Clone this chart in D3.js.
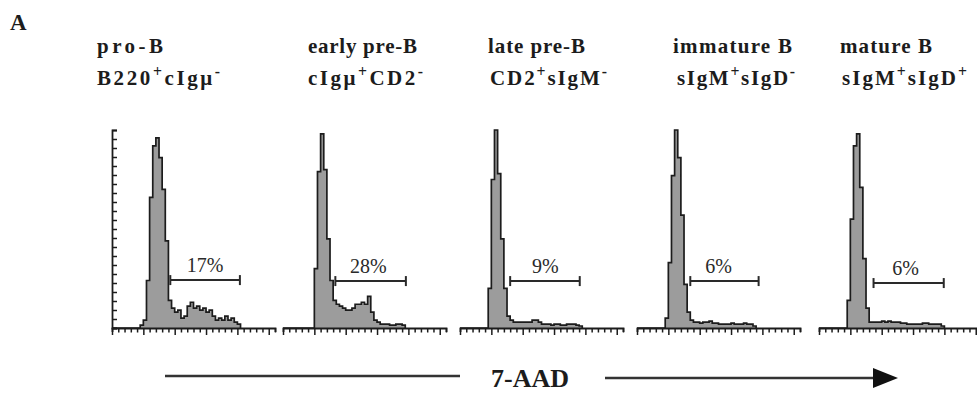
<!DOCTYPE html>
<html><head><meta charset="utf-8">
<script src="https://cdn.jsdelivr.net/npm/d3@7"></script>
<style>body{margin:0;background:#fff}svg{display:block}</style>
</head><body><svg id="c" width="977" height="394"></svg>
<script>
// ---------- data ----------
const stageNames = ["pro-B", "early pre-B", "late pre-B", "immature B", "mature B"];
const stageMarkers = [
  [["B220"], ["+", 1], ["cIgμ"], ["-", 1]],
  [["cIgμ"], ["+", 1], ["CD2"], ["-", 1]],
  [["CD2"], ["+", 1], ["sIgM"], ["-", 1]],
  [["sIgM"], ["+", 1], ["sIgD"], ["-", 1]],
  [["sIgM"], ["+", 1], ["sIgD"], ["+", 1]]
];
// 7-AAD histogram counts (relative), bins of 0.5 channel units starting at 0
const proB = [0,0,0,0,0,0,0,0,0,1.5,4,24,66,92,96,86,70,44,14,10,8,9,5,6,11,13,10,11,9,10,8,9,6,4,5,4,6,4,5,3,2,0];
const earlyPreB = [0,0,0,0,0,0,0,0,0,0,30,79,98,80,45,24,14,12,11,10,9,9,10,12,12,13,12,16,8,4,3,2,2,2,1.5,1.5,2,2,1.5,0];
const latePreB = [0,0,0,0,0,0,0,0,0,20,75,100,78,45,20,6,4,3,3,3,3,3,3,4,4,3,2,2,2,1.5,2,2,1.5,1.5,2,2,2,1.5,1,0];
const immatureB = [0,0,0,0,0,0,0,0,0,5,33,77,100,86,57,22,8,4,3,3,2.5,3,3,3.5,2.5,2.5,2,2,2,2,2.5,2,2,2,2.5,2,2,1,0];
const matureB = [0,0,0,0,0,0,0,0,0,14,55,92,98,71,35,10,3,3,3,3,3.5,3,3.5,3,3,3,2.5,2.5,2,2,2,2,2,2.5,2.5,2,2,2,2,1,0];
const histograms = [proB, earlyPreB, latePreB, immatureB, matureB];
const gateStart = [9.3, 8.35, 8.0, 8.5, 8.7];
const gateEnd = [20.4, 19.6, 19.1, 19.4, 19.9];
const gateLevel = [24.2, 23.7, 23.7, 23.7, 22.7];
const gatePercent = ["17%", "28%", "9%", "6%", "6%"];
const gateLabelAt = [14.85, 13.6, 13.6, 13.0, 13.8];
const binWidth = 0.5;
const xMax = 26;
const yMax = 100;
const xTickValues = d3.range(0, xMax + 1, 1);
const yTickValues = d3.range(0, 23).map(i => i * yMax / 22);
const axisTitle = "7-AAD";
const panelLabel = "A";

// ---------- layout ----------
const svg = d3.select("#c");
const ink = "#1c1c1c";
const panelX = [112, 283, 460, 637, 819];
const axisLen = 163;
const baseY = 328, topY = 130;
const headerX1 = [97, 308, 488, 673, 840];
const headerW1 = [66, 109, 97, 119, 92];
const headerX2 = [97, 308, 490, 677, 842];
const headerW2 = [123, 115, 117, 118, 125];
const serif = "'Liberation Serif','Times New Roman',serif";

const y = d3.scaleLinear().domain([0, yMax]).range([baseY, topY]);

function spacedText(x, yy, width, parts, size) {
  const t = svg.append("text").attr("x", x).attr("y", yy)
    .attr("font-family", serif).attr("font-weight", "bold")
    .attr("font-size", size).attr("fill", ink);
  let n = 0;
  parts.forEach(p => {
    const ts = t.append("tspan").text(p[0]);
    n += p[0].length;
    if (p[1]) ts.attr("font-size", size * 0.75).attr("baseline-shift", "50%");
  });
  const natural = t.node().getComputedTextLength();
  const ls = Math.max(0, (width - natural) / Math.max(1, n - 1));
  t.style("letter-spacing", ls + "px");
  return t;
}

svg.append("text").attr("x", 10).attr("y", 30).text(panelLabel)
  .attr("font-family", serif).attr("font-weight", "bold").attr("font-size", 23).attr("fill", ink);

stageNames.forEach((name, i) => {
  spacedText(headerX1[i], 53, headerW1[i], [[name]], 21);
  spacedText(headerX2[i], 85, headerW2[i], stageMarkers[i], 21);
});

histograms.forEach((h, i) => {
  const x = d3.scaleLinear().domain([0, xMax]).range([panelX[i], panelX[i] + axisLen]);
  const g = svg.append("g");
  const pts = h.map((v, k) => ({ x: k * binWidth, v }));
  const area = d3.area().curve(d3.curveStepAfter).x(d => x(d.x)).y0(y(0)).y1(d => y(d.v));
  const line = d3.line().curve(d3.curveStepAfter).x(d => x(d.x)).y(d => y(d.v));
  g.append("path").datum(pts).attr("d", area).attr("fill", "#9c9c9c");
  g.append("path").datum(pts).attr("d", line).attr("fill", "none")
    .attr("stroke", ink).attr("stroke-width", 1.7).attr("stroke-linejoin", "miter");

  // x axis
  const ax = g.append("g").attr("transform", `translate(0,${baseY})`)
    .call(d3.axisBottom(x).tickValues(xTickValues).tickFormat("").tickSizeOuter(0).tickSize(4));
  ax.select(".domain").attr("stroke", ink).attr("stroke-width", 1.8);
  ax.selectAll(".tick line").attr("stroke", ink).attr("stroke-width", 1.5)
    .attr("y2", d => d % 5 === 0 ? 7 : 4.5);

  // gate
  const gy = y(gateLevel[i]);
  const gg = g.append("g").attr("stroke", "#2a2a2a").attr("stroke-width", 2);
  gg.append("line").attr("x1", x(gateStart[i])).attr("x2", x(gateEnd[i])).attr("y1", gy).attr("y2", gy);
  gg.append("line").attr("x1", x(gateStart[i])).attr("x2", x(gateStart[i])).attr("y1", gy - 5).attr("y2", gy + 5);
  gg.append("line").attr("x1", x(gateEnd[i])).attr("x2", x(gateEnd[i])).attr("y1", gy - 5).attr("y2", gy + 5);
  g.append("text").attr("x", x(gateLabelAt[i])).attr("y", gy - 8.5)
    .attr("text-anchor", "middle").attr("font-family", serif).attr("font-size", 20)
    .attr("fill", "#2a2a2a").text(gatePercent[i]);

  if (i === 0) {
    const ay = g.append("g").attr("transform", `translate(${panelX[0]},0)`)
      .call(d3.axisRight(y).tickValues(yTickValues).tickFormat("").tickSizeOuter(0).tickSize(5));
    ay.select(".domain").attr("stroke", ink).attr("stroke-width", 1.8);
    ay.selectAll(".tick line").attr("stroke", ink).attr("stroke-width", 1.5);
  }
});

// axis title with arrow
svg.append("line").attr("x1", 165).attr("x2", 460).attr("y1", 376).attr("y2", 376)
  .attr("stroke", "#333").attr("stroke-width", 2.5);
svg.append("text").attr("x", 530).attr("y", 387).attr("text-anchor", "middle")
  .attr("font-family", serif).attr("font-weight", "bold").attr("font-size", 26)
  .attr("fill", ink).text(axisTitle);
svg.append("line").attr("x1", 605).attr("x2", 878).attr("y1", 378).attr("y2", 378)
  .attr("stroke", "#333").attr("stroke-width", 2.5);
svg.append("path").attr("d", "M873,368 L898,378 L873,388 Z").attr("fill", "#111");
</script></body></html>
